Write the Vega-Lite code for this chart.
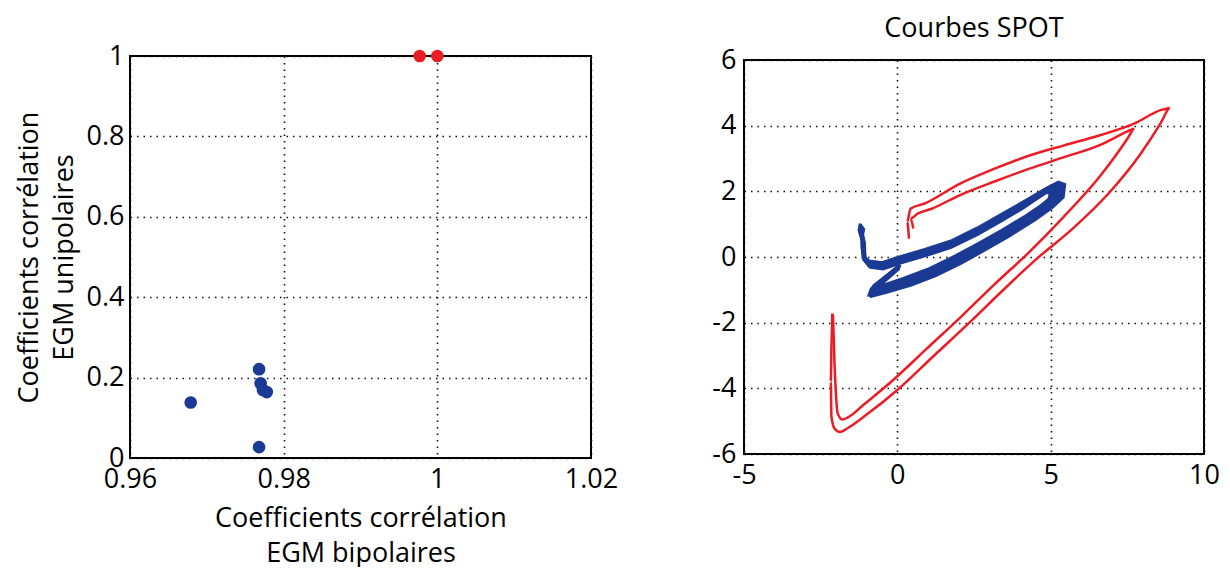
{
  "$schema": "https://vega.github.io/schema/vega-lite/v6.json",
  "background": "white",
  "padding": {"left": 14, "top": 14, "right": 5, "bottom": 0},
  "spacing": 153,
  "bounds": "flush",
  "center": true,
  "datasets": {
    "pts": [
      {"x": 0.9977, "y": 1, "c": "r"},
      {"x": 1.0, "y": 1, "c": "r"},
      {"x": 0.9679, "y": 0.138, "c": "b"},
      {"x": 0.9768, "y": 0.221, "c": "b"},
      {"x": 0.977, "y": 0.186, "c": "b"},
      {"x": 0.9773, "y": 0.169, "c": "b"},
      {"x": 0.9778, "y": 0.164, "c": "b"},
      {"x": 0.9768, "y": 0.027, "c": "b"}
    ],
    "red": [
      {"s": "r1", "i": 1, "x": 0.38, "y": 0.56},
      {"s": "r1", "i": 2, "x": 0.32, "y": 1.07},
      {"s": "r1", "i": 3, "x": 0.43, "y": 1.47},
      {"s": "r1", "i": 4, "x": 0.89, "y": 1.63},
      {"s": "r1", "i": 5, "x": 2.03, "y": 2.23},
      {"s": "r1", "i": 6, "x": 3.17, "y": 2.69},
      {"s": "r1", "i": 7, "x": 4.31, "y": 3.09},
      {"s": "r1", "i": 8, "x": 5.44, "y": 3.4},
      {"s": "r1", "i": 9, "x": 6.58, "y": 3.7},
      {"s": "r1", "i": 10, "x": 7.72, "y": 4.06},
      {"s": "r1", "i": 11, "x": 8.6, "y": 4.48},
      {"s": "r1", "i": 12, "x": 8.88, "y": 4.55},
      {"s": "r1", "i": 13, "x": 8.6, "y": 4.1},
      {"s": "r1", "i": 14, "x": 7.9, "y": 3.1},
      {"s": "r1", "i": 15, "x": 6.9, "y": 1.95},
      {"s": "r1", "i": 16, "x": 5.7, "y": 0.85},
      {"s": "r1", "i": 17, "x": 4.55, "y": -0.05},
      {"s": "r1", "i": 18, "x": 3.4, "y": -1.05},
      {"s": "r1", "i": 19, "x": 2.35, "y": -2.0},
      {"s": "r1", "i": 20, "x": 1.2, "y": -3.0},
      {"s": "r1", "i": 21, "x": 0.0, "y": -4.05},
      {"s": "r1", "i": 22, "x": -1.0, "y": -4.8},
      {"s": "r1", "i": 23, "x": -1.6, "y": -5.2},
      {"s": "r1", "i": 24, "x": -1.87, "y": -5.33},
      {"s": "r1", "i": 25, "x": -2.05, "y": -5.22},
      {"s": "r1", "i": 26, "x": -2.15, "y": -4.85},
      {"s": "r1", "i": 27, "x": -2.17, "y": -3.8},
      {"s": "r1", "i": 28, "x": -2.15, "y": -2.8},
      {"s": "r1", "i": 29, "x": -2.12, "y": -1.72},
      {"s": "r2", "i": 1, "x": 0.52, "y": 0.87},
      {"s": "r2", "i": 2, "x": 0.43, "y": 1.17},
      {"s": "r2", "i": 3, "x": 0.66, "y": 1.32},
      {"s": "r2", "i": 4, "x": 1.12, "y": 1.47},
      {"s": "r2", "i": 5, "x": 2.03, "y": 1.88},
      {"s": "r2", "i": 6, "x": 3.17, "y": 2.3},
      {"s": "r2", "i": 7, "x": 4.31, "y": 2.69},
      {"s": "r2", "i": 8, "x": 5.44, "y": 3.04},
      {"s": "r2", "i": 9, "x": 6.58, "y": 3.4},
      {"s": "r2", "i": 10, "x": 7.55, "y": 3.85},
      {"s": "r2", "i": 11, "x": 7.72, "y": 3.92},
      {"s": "r2", "i": 12, "x": 7.5, "y": 3.6},
      {"s": "r2", "i": 13, "x": 6.6, "y": 2.45},
      {"s": "r2", "i": 14, "x": 5.4, "y": 1.2},
      {"s": "r2", "i": 15, "x": 4.3, "y": 0.15},
      {"s": "r2", "i": 16, "x": 3.15, "y": -0.85},
      {"s": "r2", "i": 17, "x": 2.1, "y": -1.8},
      {"s": "r2", "i": 18, "x": 0.95, "y": -2.8},
      {"s": "r2", "i": 19, "x": -0.2, "y": -3.8},
      {"s": "r2", "i": 20, "x": -1.1, "y": -4.5},
      {"s": "r2", "i": 21, "x": -1.6, "y": -4.88},
      {"s": "r2", "i": 22, "x": -1.8, "y": -4.95},
      {"s": "r2", "i": 23, "x": -1.95, "y": -4.75},
      {"s": "r2", "i": 24, "x": -2.0, "y": -4.2},
      {"s": "r2", "i": 25, "x": -2.05, "y": -3.2},
      {"s": "r2", "i": 26, "x": -2.08, "y": -2.3},
      {"s": "r2", "i": 27, "x": -2.1, "y": -1.75}
    ],
    "blue": [
      {"s": "b1", "i": 1, "x": -1.15, "y": 0.95}, {"s": "b1", "i": 2, "x": -1.2, "y": 0.75}, {"s": "b1", "i": 3, "x": -1.12, "y": 0.5}, {"s": "b1", "i": 4, "x": -1.12, "y": 0.2}, {"s": "b1", "i": 5, "x": -1.08, "y": -0.03}, {"s": "b1", "i": 6, "x": -0.9, "y": -0.17}, {"s": "b1", "i": 7, "x": -0.5, "y": -0.22}, {"s": "b1", "i": 8, "x": 0.1, "y": -0.04}, {"s": "b1", "i": 9, "x": 0.9, "y": 0.18}, {"s": "b1", "i": 10, "x": 1.75, "y": 0.44}, {"s": "b1", "i": 11, "x": 2.6, "y": 0.83}, {"s": "b1", "i": 12, "x": 3.4, "y": 1.25}, {"s": "b1", "i": 13, "x": 4.2, "y": 1.68}, {"s": "b1", "i": 14, "x": 4.8, "y": 2.03}, {"s": "b1", "i": 15, "x": 5.2, "y": 2.23}, {"s": "b1", "i": 16, "x": 5.4, "y": 2.16}, {"s": "b1", "i": 17, "x": 5.35, "y": 1.84}, {"s": "b1", "i": 18, "x": 5.0, "y": 1.56}, {"s": "b1", "i": 19, "x": 4.45, "y": 1.19}, {"s": "b1", "i": 20, "x": 3.6, "y": 0.69}, {"s": "b1", "i": 21, "x": 2.8, "y": 0.26}, {"s": "b1", "i": 22, "x": 2.0, "y": -0.16}, {"s": "b1", "i": 23, "x": 1.2, "y": -0.52}, {"s": "b1", "i": 24, "x": 0.4, "y": -0.81}, {"s": "b1", "i": 25, "x": -0.4, "y": -1.03}, {"s": "b1", "i": 26, "x": -0.85, "y": -1.15}, {"s": "b1", "i": 27, "x": -0.8, "y": -1.0}, {"s": "b1", "i": 28, "x": -0.4, "y": -0.68}, {"s": "b1", "i": 29, "x": 0.05, "y": -0.3},
      {"s": "b2", "i": 1, "x": -1.12, "y": 0.9}, {"s": "b2", "i": 2, "x": -1.17, "y": 0.7}, {"s": "b2", "i": 3, "x": -1.1, "y": 0.45}, {"s": "b2", "i": 4, "x": -1.1, "y": 0.15}, {"s": "b2", "i": 5, "x": -1.06, "y": -0.06}, {"s": "b2", "i": 6, "x": -0.88, "y": -0.22}, {"s": "b2", "i": 7, "x": -0.48, "y": -0.27}, {"s": "b2", "i": 8, "x": 0.1, "y": -0.09}, {"s": "b2", "i": 9, "x": 0.9, "y": 0.13}, {"s": "b2", "i": 10, "x": 1.75, "y": 0.39}, {"s": "b2", "i": 11, "x": 2.6, "y": 0.78}, {"s": "b2", "i": 12, "x": 3.4, "y": 1.2}, {"s": "b2", "i": 13, "x": 4.2, "y": 1.63}, {"s": "b2", "i": 14, "x": 4.75, "y": 1.96}, {"s": "b2", "i": 15, "x": 5.1, "y": 2.16}, {"s": "b2", "i": 16, "x": 5.3, "y": 2.1}, {"s": "b2", "i": 17, "x": 5.25, "y": 1.88}, {"s": "b2", "i": 18, "x": 4.9, "y": 1.6}, {"s": "b2", "i": 19, "x": 4.35, "y": 1.24}, {"s": "b2", "i": 20, "x": 3.5, "y": 0.73}, {"s": "b2", "i": 21, "x": 2.7, "y": 0.3}, {"s": "b2", "i": 22, "x": 1.9, "y": -0.12}, {"s": "b2", "i": 23, "x": 1.1, "y": -0.48}, {"s": "b2", "i": 24, "x": 0.3, "y": -0.77}, {"s": "b2", "i": 25, "x": -0.45, "y": -0.98}, {"s": "b2", "i": 26, "x": -0.88, "y": -1.1}, {"s": "b2", "i": 27, "x": -0.83, "y": -0.96}, {"s": "b2", "i": 28, "x": -0.43, "y": -0.66}, {"s": "b2", "i": 29, "x": 0.0, "y": -0.32},
      {"s": "b3", "i": 1, "x": -1.18, "y": 0.98}, {"s": "b3", "i": 2, "x": -1.22, "y": 0.78}, {"s": "b3", "i": 3, "x": -1.14, "y": 0.52}, {"s": "b3", "i": 4, "x": -1.13, "y": 0.22}, {"s": "b3", "i": 5, "x": -1.09, "y": -0.07}, {"s": "b3", "i": 6, "x": -0.92, "y": -0.27}, {"s": "b3", "i": 7, "x": -0.52, "y": -0.32}, {"s": "b3", "i": 8, "x": 0.1, "y": -0.14}, {"s": "b3", "i": 9, "x": 0.9, "y": 0.08}, {"s": "b3", "i": 10, "x": 1.75, "y": 0.34}, {"s": "b3", "i": 11, "x": 2.6, "y": 0.73}, {"s": "b3", "i": 12, "x": 3.4, "y": 1.15}, {"s": "b3", "i": 13, "x": 4.15, "y": 1.56}, {"s": "b3", "i": 14, "x": 4.7, "y": 1.9}, {"s": "b3", "i": 15, "x": 5.0, "y": 2.08}, {"s": "b3", "i": 16, "x": 5.2, "y": 2.04}, {"s": "b3", "i": 17, "x": 5.15, "y": 1.86}, {"s": "b3", "i": 18, "x": 4.8, "y": 1.6}, {"s": "b3", "i": 19, "x": 4.3, "y": 1.26}, {"s": "b3", "i": 20, "x": 3.45, "y": 0.76}, {"s": "b3", "i": 21, "x": 2.65, "y": 0.34}, {"s": "b3", "i": 22, "x": 1.85, "y": -0.06}, {"s": "b3", "i": 23, "x": 1.05, "y": -0.42}, {"s": "b3", "i": 24, "x": 0.25, "y": -0.7}, {"s": "b3", "i": 25, "x": -0.5, "y": -0.92}, {"s": "b3", "i": 26, "x": -0.82, "y": -1.05}, {"s": "b3", "i": 27, "x": -0.78, "y": -0.92}, {"s": "b3", "i": 28, "x": -0.38, "y": -0.62}, {"s": "b3", "i": 29, "x": 0.08, "y": -0.28},
      {"s": "b4", "i": 1, "x": -1.2, "y": 1.02}, {"s": "b4", "i": 2, "x": -1.24, "y": 0.82}, {"s": "b4", "i": 3, "x": -1.15, "y": 0.56}, {"s": "b4", "i": 4, "x": -1.14, "y": 0.26}, {"s": "b4", "i": 5, "x": -1.1, "y": 0.0}, {"s": "b4", "i": 6, "x": -0.92, "y": -0.13}, {"s": "b4", "i": 7, "x": -0.5, "y": -0.18}, {"s": "b4", "i": 8, "x": 0.1, "y": 0.0}, {"s": "b4", "i": 9, "x": 0.9, "y": 0.22}, {"s": "b4", "i": 10, "x": 1.75, "y": 0.48}, {"s": "b4", "i": 11, "x": 2.6, "y": 0.87}, {"s": "b4", "i": 12, "x": 3.4, "y": 1.29}, {"s": "b4", "i": 13, "x": 4.2, "y": 1.72}, {"s": "b4", "i": 14, "x": 4.85, "y": 2.08}, {"s": "b4", "i": 15, "x": 5.25, "y": 2.27}, {"s": "b4", "i": 16, "x": 5.45, "y": 2.2}, {"s": "b4", "i": 17, "x": 5.4, "y": 1.82}, {"s": "b4", "i": 18, "x": 5.05, "y": 1.52}, {"s": "b4", "i": 19, "x": 4.5, "y": 1.15}, {"s": "b4", "i": 20, "x": 3.65, "y": 0.65}, {"s": "b4", "i": 21, "x": 2.85, "y": 0.22}, {"s": "b4", "i": 22, "x": 2.05, "y": -0.2}, {"s": "b4", "i": 23, "x": 1.25, "y": -0.56}, {"s": "b4", "i": 24, "x": 0.45, "y": -0.85}, {"s": "b4", "i": 25, "x": -0.35, "y": -1.07}, {"s": "b4", "i": 26, "x": -0.82, "y": -1.18}, {"s": "b4", "i": 27, "x": -0.78, "y": -1.03}, {"s": "b4", "i": 28, "x": -0.38, "y": -0.7}, {"s": "b4", "i": 29, "x": 0.06, "y": -0.34},
      {"s": "b5", "i": 1, "x": -1.1, "y": 0.88}, {"s": "b5", "i": 2, "x": -1.14, "y": 0.68}, {"s": "b5", "i": 3, "x": -1.08, "y": 0.43}, {"s": "b5", "i": 4, "x": -1.07, "y": 0.13}, {"s": "b5", "i": 5, "x": -1.04, "y": -0.1}, {"s": "b5", "i": 6, "x": -0.87, "y": -0.31}, {"s": "b5", "i": 7, "x": -0.47, "y": -0.36}, {"s": "b5", "i": 8, "x": 0.1, "y": -0.18}, {"s": "b5", "i": 9, "x": 0.9, "y": 0.04}, {"s": "b5", "i": 10, "x": 1.75, "y": 0.3}, {"s": "b5", "i": 11, "x": 2.6, "y": 0.69}, {"s": "b5", "i": 12, "x": 3.4, "y": 1.11}, {"s": "b5", "i": 13, "x": 4.1, "y": 1.5}, {"s": "b5", "i": 14, "x": 4.6, "y": 1.82}, {"s": "b5", "i": 15, "x": 4.92, "y": 2.02}, {"s": "b5", "i": 16, "x": 5.1, "y": 1.98}, {"s": "b5", "i": 17, "x": 5.05, "y": 1.82}, {"s": "b5", "i": 18, "x": 4.72, "y": 1.58}, {"s": "b5", "i": 19, "x": 4.2, "y": 1.25}, {"s": "b5", "i": 20, "x": 3.4, "y": 0.8}, {"s": "b5", "i": 21, "x": 2.6, "y": 0.38}, {"s": "b5", "i": 22, "x": 1.8, "y": -0.02}, {"s": "b5", "i": 23, "x": 1.0, "y": -0.38}, {"s": "b5", "i": 24, "x": 0.2, "y": -0.66}, {"s": "b5", "i": 25, "x": -0.5, "y": -0.88}, {"s": "b5", "i": 26, "x": -0.8, "y": -1.0}, {"s": "b5", "i": 27, "x": -0.76, "y": -0.88}, {"s": "b5", "i": 28, "x": -0.36, "y": -0.58}, {"s": "b5", "i": 29, "x": 0.1, "y": -0.24},
      {"s": "b6", "i": 1, "x": -1.14, "y": 0.92}, {"s": "b6", "i": 2, "x": -1.19, "y": 0.72}, {"s": "b6", "i": 3, "x": -1.11, "y": 0.47}, {"s": "b6", "i": 4, "x": -1.1, "y": 0.17}, {"s": "b6", "i": 5, "x": -1.07, "y": -0.08}, {"s": "b6", "i": 6, "x": -0.9, "y": -0.25}, {"s": "b6", "i": 7, "x": -0.5, "y": -0.3}, {"s": "b6", "i": 8, "x": 0.1, "y": -0.12}, {"s": "b6", "i": 9, "x": 0.9, "y": 0.1}, {"s": "b6", "i": 10, "x": 1.75, "y": 0.36}, {"s": "b6", "i": 11, "x": 2.6, "y": 0.75}, {"s": "b6", "i": 12, "x": 3.4, "y": 1.17}, {"s": "b6", "i": 13, "x": 4.05, "y": 1.52}, {"s": "b6", "i": 14, "x": 4.55, "y": 1.8}, {"s": "b6", "i": 15, "x": 4.85, "y": 1.98}, {"s": "b6", "i": 16, "x": 5.0, "y": 1.94}, {"s": "b6", "i": 17, "x": 4.95, "y": 1.76}, {"s": "b6", "i": 18, "x": 4.65, "y": 1.52}, {"s": "b6", "i": 19, "x": 4.15, "y": 1.18}, {"s": "b6", "i": 20, "x": 3.35, "y": 0.7}, {"s": "b6", "i": 21, "x": 2.55, "y": 0.27}, {"s": "b6", "i": 22, "x": 1.75, "y": -0.14}, {"s": "b6", "i": 23, "x": 0.95, "y": -0.5}, {"s": "b6", "i": 24, "x": 0.15, "y": -0.79}, {"s": "b6", "i": 25, "x": -0.55, "y": -1.0}, {"s": "b6", "i": 26, "x": -0.9, "y": -1.13}, {"s": "b6", "i": 27, "x": -0.85, "y": -0.99}, {"s": "b6", "i": 28, "x": -0.45, "y": -0.68}, {"s": "b6", "i": 29, "x": 0.0, "y": -0.33}
    ]
  },
  "hconcat": [
    {
      "width": 461,
      "height": 402,
      "data": {"name": "pts"},
      "mark": {"type": "circle", "opacity": 1, "size": 160},
      "encoding": {
        "x": {
          "field": "x", "type": "quantitative",
          "scale": {"domain": [0.96, 1.02], "nice": false, "zero": false},
          "axis": {"values": [0.96, 0.98, 1, 1.02], "title": ["Coefficients corrélation", "EGM bipolaires"], "titlePadding": 13}
        },
        "y": {
          "field": "y", "type": "quantitative",
          "scale": {"domain": [0, 1], "nice": false, "zero": false},
          "axis": {"values": [0, 0.2, 0.4, 0.6, 0.8, 1], "title": ["Coefficients corrélation", "EGM unipolaires"], "titlePadding": 8, "labelPadding": 6}
        },
        "color": {"field": "c", "type": "nominal", "scale": {"domain": ["r", "b"], "range": ["#ec1c24", "#1b3a93"]}, "legend": null}
      }
    },
    {
      "width": 460,
      "height": 394,
      "title": {"text": "Courbes SPOT", "fontSize": 27, "font": "Open Sans", "fontWeight": "normal", "color": "#000", "baseline": "alphabetic", "offset": -18, "anchor": "middle", "frame": "group"},
      "encoding": {
        "x": {"field": "x", "type": "quantitative", "scale": {"domain": [-5, 10], "nice": false, "zero": false}, "axis": {"values": [-5, 0, 5, 10], "title": null}},
        "y": {"field": "y", "type": "quantitative", "scale": {"domain": [-6, 6], "nice": false, "zero": false}, "axis": {"values": [-6, -4, -2, 0, 2, 4, 6], "title": null}},
        "order": {"field": "i", "type": "quantitative"},
        "detail": {"field": "s", "type": "nominal"}
      },
      "layer": [
        {"data": {"name": "red"}, "mark": {"type": "line", "color": "#ec1c24", "strokeWidth": 2.5, "interpolate": "monotone"}},
        {"data": {"name": "blue"}, "mark": {"type": "line", "color": "#1b3a93", "strokeWidth": 3.5}}
      ]
    }
  ],
  "config": {
    "font": "Open Sans",
    "view": {"stroke": "#000", "strokeWidth": 2},
    "axis": {
      "domain": false,
      "ticks": false,
      "grid": true,
      "gridColor": "#111",
      "gridDash": [1.5, 5],
      "gridWidth": 1.6,
      "labelFont": "Open Sans",
      "labelFontSize": 27,
      "labelColor": "#000",
      "labelPadding": 8,
      "labelFlush": false,
      "labelOverlap": false,
      "labelBound": false,
      "labelExpr": "'' + datum.value",
      "titleFont": "Open Sans",
      "titleFontSize": 27,
      "titleFontWeight": "normal",
      "titleColor": "#000",
      "titleLineHeight": 35
    }
  }
}
